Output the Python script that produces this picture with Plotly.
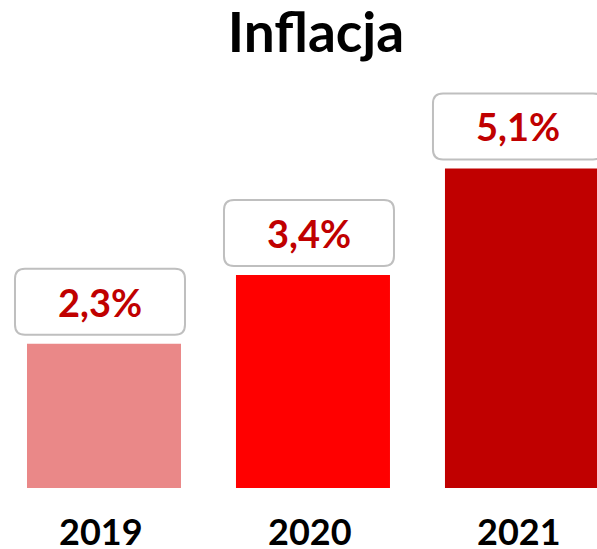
import plotly.graph_objects as go

# ---- data ----
years = ["2019", "2020", "2021"]
inflation = [2.3, 3.4, 5.1]
value_labels = ["2,3%", "3,4%", "5,1%"]
bar_colors = ["#EA8888", "#FF0000", "#C00000"]

# ---- layout constants ----
W, H = 597, 549
M_L, M_R, M_T, M_B = 0, 0, 60, 61
X_RANGE = [-0.4976, 2.359]
Y_RANGE = [0, 6.83]
FONT = "Lato, 'Open Sans', sans-serif"

plot_w = W - M_L - M_R
plot_h = H - M_T - M_B
px_x = plot_w / (X_RANGE[1] - X_RANGE[0])  # px per x unit
px_y = plot_h / (Y_RANGE[1] - Y_RANGE[0])  # px per y unit

xs = list(range(len(years)))

fig = go.Figure(
    go.Bar(
        x=xs,
        y=inflation,
        marker=dict(color=bar_colors, line=dict(width=0)),
        width=154 / px_x,
        hoverinfo="skip",
    )
)

# rounded label boxes
box_w = 170 / px_x
box_h = 66 / px_y
gap = 9 / px_y
rx = 10 / px_x
ry = 10 / px_y
off = -4 / px_x

shapes = []
annotations = []
for x, v, lab in zip(xs, inflation, value_labels):
    cx = x + off
    x0, x1 = cx - box_w / 2, cx + box_w / 2
    y0, y1 = v + gap, v + gap + box_h
    path = (
        f"M {x0 + rx},{y0} L {x1 - rx},{y0} Q {x1},{y0} {x1},{y0 + ry} "
        f"L {x1},{y1 - ry} Q {x1},{y1} {x1 - rx},{y1} "
        f"L {x0 + rx},{y1} Q {x0},{y1} {x0},{y1 - ry} "
        f"L {x0},{y0 + ry} Q {x0},{y0} {x0 + rx},{y0} Z"
    )
    shapes.append(
        dict(
            type="path",
            path=path,
            xref="x",
            yref="y",
            line=dict(color="#BFBFBF", width=2),
            fillcolor="white",
            layer="above",
        )
    )
    annotations.append(
        dict(
            x=cx,
            y=(y0 + y1) / 2,
            xref="x",
            yref="y",
            text=f"<b>{lab}</b>",
            showarrow=False,
            font=dict(family=FONT, size=38, color="#C00000"),
            xanchor="center",
            yanchor="middle",
        )
    )

# category labels under the bars
for x, yr in zip(xs, years):
    annotations.append(
        dict(
            x=x,
            y=0,
            xref="x",
            yref="paper",
            text=f"<b>{yr}</b>",
            showarrow=False,
            font=dict(family=FONT, size=36, color="black"),
            xanchor="center",
            yanchor="top",
            xshift=-3,
            yshift=-19,
        )
    )

fig.update_layout(
    width=W,
    height=H,
    margin=dict(l=M_L, r=M_R, t=M_T, b=M_B, autoexpand=False),
    paper_bgcolor="white",
    plot_bgcolor="white",
    showlegend=False,
    title=dict(
        text="<b>Inflacja</b>",
        x=316 / W,
        xanchor="center",
        y=1 - 33 / H,
        yanchor="middle",
        font=dict(family=FONT, size=55, color="black"),
    ),
    xaxis=dict(
        range=X_RANGE,
        tickvals=xs,
        showticklabels=False,
        showgrid=False,
        zeroline=False,
        showline=False,
        ticks="",
        automargin=False,
    ),
    yaxis=dict(
        range=Y_RANGE,
        visible=False,
        showgrid=False,
        zeroline=False,
        automargin=False,
    ),
    shapes=shapes,
    annotations=annotations,
)

fig.write_html(
    "out.html",
    config={"displayModeBar": False},
    post_script="document.body.style.margin='0';",
)
